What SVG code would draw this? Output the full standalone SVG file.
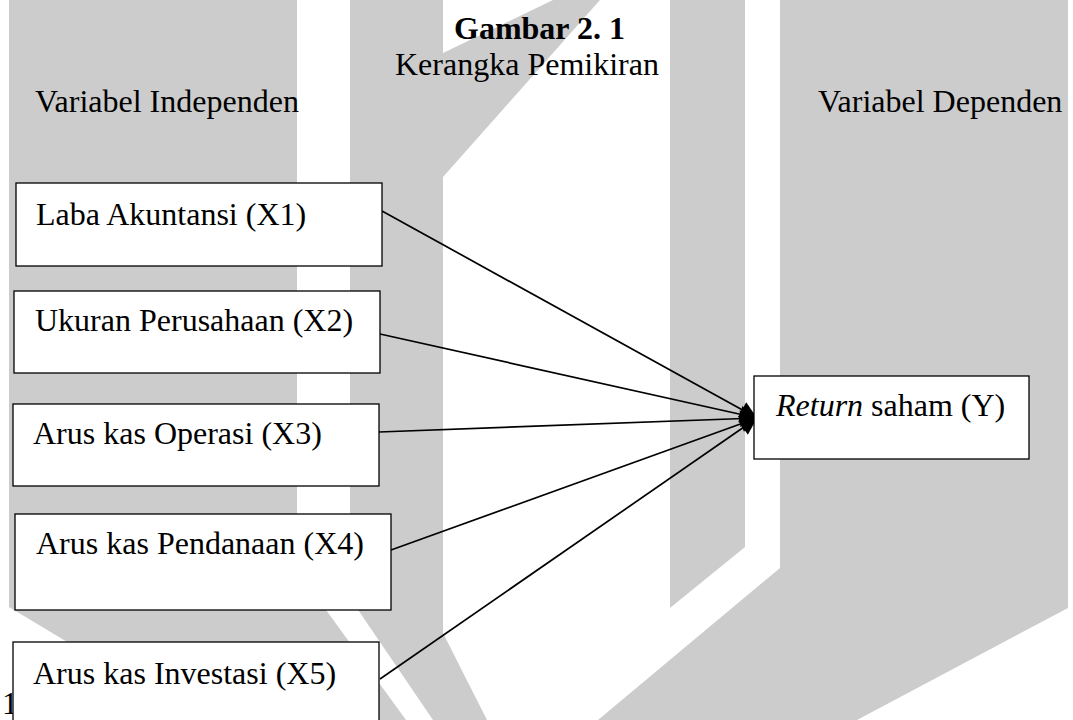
<svg xmlns="http://www.w3.org/2000/svg" width="1073" height="720" viewBox="0 0 1073 720">
  <style>
    .wm { fill: #cccccc; stroke: none; }
    .box { fill: #ffffff; stroke: #000000; stroke-width: 1.3; }
    .t { font-family: "Liberation Serif", "Times New Roman", serif; font-size: 32px; fill: #000000; }
    .conn { stroke: #000000; stroke-width: 1.7; fill: none; marker-end: url(#arrow); }
  </style>
  <defs>
    <marker id="arrow" viewBox="0 0 10 10" refX="10" refY="5" markerWidth="22" markerHeight="17" markerUnits="userSpaceOnUse" orient="auto">
      <path d="M0,0 L10,5 L0,10 z" fill="#000000"/>
    </marker>
  </defs>
  <rect x="0" y="0" width="1073" height="720" fill="#ffffff"/>
  <g id="watermark">
    <polygon class="wm" points="9,0 297,0 297,570 406,720 197,720 9,607"/>
    <polygon class="wm" points="350,0 443,0 443,53 553,0 600,0 443,177 443,633 487,720 433,720 350,598"/>
    <polygon class="wm" points="670,0 745,0 745,547 670,608"/>
    <polygon class="wm" points="780,0 1068,0 1068,608 857,720 598,720 780,568"/>
  </g>
  <g id="headers">
    <text class="t" x="454" y="39" font-weight="bold">Gambar 2. 1</text>
    <text class="t" x="395" y="75">Kerangka Pemikiran</text>
    <text class="t" x="35" y="112">Variabel Independen</text>
    <text class="t" x="818" y="112">Variabel Dependen</text>
    <text class="t" x="2" y="714" font-size="14px">1</text>
  </g>
  <g id="connectors">
    <line class="conn" x1="382" y1="211" x2="757" y2="418"/>
    <line class="conn" x1="380" y1="334" x2="757" y2="418"/>
    <line class="conn" x1="379" y1="432" x2="757" y2="418"/>
    <line class="conn" x1="391" y1="550" x2="757" y2="418"/>
    <line class="conn" x1="380" y1="679" x2="757" y2="418"/>
  </g>
  <g id="x1">
    <rect class="box" x="16" y="183" width="366" height="83"/>
    <text class="t" x="36" y="225">Laba Akuntansi (X1)</text>
  </g>
  <g id="x2">
    <rect class="box" x="14" y="291" width="366" height="82"/>
    <text class="t" x="35" y="331">Ukuran Perusahaan (X2)</text>
  </g>
  <g id="x3">
    <rect class="box" x="13" y="404" width="366" height="82"/>
    <text class="t" x="33" y="444">Arus kas Operasi (X3)</text>
  </g>
  <g id="x4">
    <rect class="box" x="15" y="514" width="376" height="96"/>
    <text class="t" x="36" y="554">Arus kas Pendanaan (X4)</text>
  </g>
  <g id="x5">
    <rect class="box" x="13" y="642" width="366" height="90"/>
    <text class="t" x="33" y="684">Arus kas Investasi (X5)</text>
  </g>
  <g id="y">
    <rect class="box" x="754" y="376" width="275" height="83"/>
    <text class="t" x="776" y="416"><tspan font-style="italic">Return</tspan> saham (Y)</text>
  </g>
</svg>
